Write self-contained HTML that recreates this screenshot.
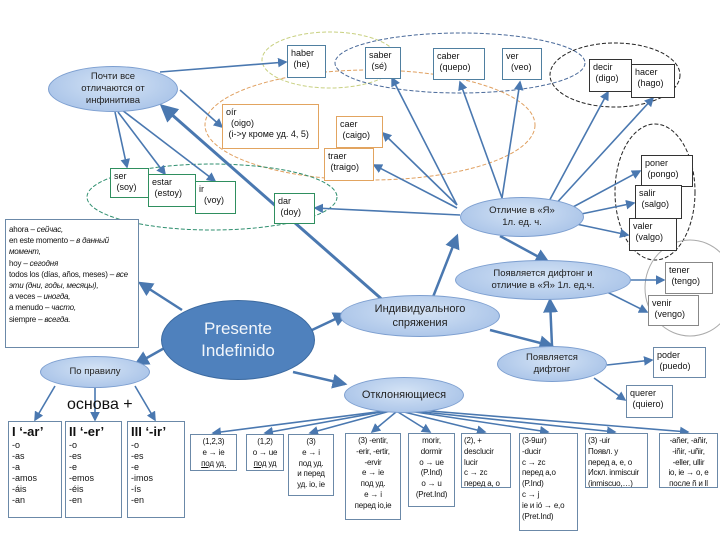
<!DOCTYPE html>
<html><head><meta charset="utf-8"><style>
body{margin:0;width:720px;height:540px;background:#fff;position:relative;overflow:hidden;font-family:"Liberation Sans","DejaVu Sans",sans-serif;color:#111}
.b{position:absolute;background:#fff;border:1px solid #333;font-size:9px;line-height:11px;box-sizing:border-box;padding:2px 3px;overflow:hidden;white-space:nowrap}
.t{border-color:#4f7fa0}.o{border-color:#e2a460}.g{border-color:#2f8f5f}.k{border-color:#333}.bl{border-color:#6b89a8}
.s{font-size:8px;line-height:10.8px;letter-spacing:-0.2px;padding:2px 2px}
.e{position:absolute;border-radius:50%;background:radial-gradient(ellipse at 50% 40%,#d4e3f5,#9fbce5);border:1px solid #7d9fd0;box-sizing:border-box;display:flex;align-items:center;justify-content:center;text-align:center;font-size:9.5px;line-height:12px;color:#222}
.c{text-align:center}
</style></head><body>
<svg width="720" height="540" style="position:absolute;left:0;top:0">
<defs><marker id="a" markerWidth="6" markerHeight="6" refX="5" refY="3" orient="auto"><path d="M0,0L6,3L0,6z" fill="#4a78b0"/></marker></defs>
<g fill="none" stroke-dasharray="4,2" stroke-width="1">
<ellipse cx="330" cy="60" rx="68" ry="28" stroke="#c8d080"/>
<ellipse cx="460" cy="63" rx="125" ry="30" stroke="#4a6a9a"/>
<ellipse cx="370" cy="125" rx="165" ry="55" stroke="#e0a060"/>
<ellipse cx="212" cy="197" rx="125" ry="33" stroke="#2f8f6f"/>
<ellipse cx="615" cy="75" rx="65" ry="32" stroke="#222"/>
<ellipse cx="655" cy="192" rx="40" ry="68" stroke="#222"/>
<ellipse cx="690" cy="288" rx="45" ry="48" stroke="#aaa" stroke-dasharray="none"/>
</g>
<g stroke="#4a78b0" stroke-width="1.6" fill="none" marker-end="url(#a)">
<line x1="160" y1="72" x2="286" y2="62"/>
<line x1="180" y1="90" x2="222" y2="127"/>
<line x1="115" y1="112" x2="127" y2="167"/>
<line x1="118" y1="112" x2="165" y2="174"/>
<line x1="122" y1="110" x2="215" y2="181"/>
<line x1="385" y1="302" x2="162" y2="106" stroke-width="3"/>
<line x1="460" y1="215" x2="315" y2="208"/>
<line x1="457" y1="205" x2="392" y2="78"/>
<line x1="502" y1="198" x2="460" y2="82"/>
<line x1="502" y1="198" x2="520" y2="82"/>
<line x1="547" y1="205" x2="608" y2="92"/>
<line x1="552" y1="208" x2="653" y2="98"/>
<line x1="560" y1="214" x2="640" y2="171"/>
<line x1="562" y1="218" x2="634" y2="203"/>
<line x1="562" y1="221" x2="628" y2="235"/>
<line x1="457" y1="205" x2="383" y2="133"/>
<line x1="457" y1="208" x2="374" y2="165"/>
<line x1="500" y1="236" x2="548" y2="262" stroke-width="2.5"/>
<line x1="433" y1="297" x2="457" y2="236" stroke-width="2.5"/>
<line x1="490" y1="330" x2="552" y2="346" stroke-width="2.5"/>
<line x1="552" y1="346" x2="550" y2="300" stroke-width="2.5"/>
<line x1="630" y1="280" x2="664" y2="280"/>
<line x1="605" y1="291" x2="647" y2="312"/>
<line x1="607" y1="365" x2="652" y2="360"/>
<line x1="594" y1="378" x2="625" y2="400"/>
<line x1="312" y1="330" x2="346" y2="314" stroke-width="2.5"/>
<line x1="182" y1="310" x2="140" y2="283" stroke-width="2.5"/>
<line x1="168" y1="346" x2="136" y2="364" stroke-width="2.5"/>
<line x1="293" y1="372" x2="345" y2="384" stroke-width="2.5"/>
<line x1="55" y1="386" x2="35" y2="420"/>
<line x1="95" y1="388" x2="95" y2="420"/>
<line x1="135" y1="386" x2="155" y2="420"/>
<line x1="392" y1="410" x2="213" y2="433"/>
<line x1="392" y1="410" x2="265" y2="433"/>
<line x1="394" y1="410" x2="310" y2="433"/>
<line x1="396" y1="412" x2="372" y2="432"/>
<line x1="398" y1="412" x2="430" y2="432"/>
<line x1="400" y1="411" x2="485" y2="432"/>
<line x1="402" y1="410" x2="548" y2="432"/>
<line x1="404" y1="410" x2="615" y2="432"/>
<line x1="406" y1="409" x2="688" y2="432"/>
</g>
</svg>
<div class="b t" style="left:287px;top:45px;width:39px;height:33px">haber<br>&nbsp;(he)</div>
<div class="b t" style="left:365px;top:47px;width:36px;height:32px">saber<br>&nbsp;(sé)</div>
<div class="b t" style="left:433px;top:48px;width:52px;height:32px">caber<br>&nbsp;(quepo)</div>
<div class="b t" style="left:502px;top:48px;width:40px;height:32px">ver<br>&nbsp;&nbsp;(veo)</div>
<div class="b k" style="left:589px;top:59px;width:43px;height:33px">decir<br>&nbsp;(digo)</div>
<div class="b k" style="left:631px;top:64px;width:44px;height:34px">hacer<br>&nbsp;(hago)</div>
<div class="b o" style="left:222px;top:104px;width:97px;height:45px">oír<br>&nbsp;&nbsp;(oigo)<br>&nbsp;(i-&gt;y кроме уд. 4, 5)</div>
<div class="b o" style="left:336px;top:116px;width:47px;height:32px">caer<br>&nbsp;(caigo)</div>
<div class="b o" style="left:324px;top:148px;width:50px;height:33px">traer<br>&nbsp;(traigo)</div>
<div class="b g" style="left:110px;top:168px;width:39px;height:30px">ser<br>&nbsp;(soy)</div>
<div class="b g" style="left:148px;top:174px;width:48px;height:33px">estar<br>&nbsp;(estoy)</div>
<div class="b g" style="left:195px;top:181px;width:41px;height:33px">ir<br>&nbsp;&nbsp;(voy)</div>
<div class="b g" style="left:274px;top:193px;width:41px;height:31px">dar<br>&nbsp;(doy)</div>
<div class="b k" style="left:641px;top:155px;width:52px;height:32px">poner<br>&nbsp;(pongo)</div>
<div class="b k" style="left:635px;top:185px;width:47px;height:34px">salir<br>&nbsp;(salgo)</div>
<div class="b k" style="left:629px;top:218px;width:48px;height:33px">valer<br>&nbsp;(valgo)</div>
<div class="b k" style="left:665px;top:262px;width:48px;height:32px;border-color:#888">tener<br>&nbsp;(tengo)</div>
<div class="b k" style="left:648px;top:295px;width:51px;height:31px;border-color:#888">venir<br>&nbsp;(vengo)</div>
<div class="b bl" style="left:653px;top:347px;width:53px;height:31px">poder<br>&nbsp;(puedo)</div>
<div class="b bl" style="left:626px;top:385px;width:47px;height:33px">querer<br>&nbsp;(quiero)</div>
<div class="b bl" style="left:5px;top:219px;width:134px;height:129px;font-size:8px;line-height:11.2px;padding:4px 3px;white-space:normal;letter-spacing:-0.2px">ahora – <i>сейчас,</i><br>en este momento – <i>в данный момент,</i><br>hoy – <i>сегодня</i><br>todos los (días, años, meses) – <i>все эти (дни, годы, месяцы),</i><br>a veces – <i>иногда,</i><br>a menudo – <i>часто,</i><br>siempre – <i>всегда.</i></div>
<div class="e" style="left:48px;top:66px;width:130px;height:46px">Почти все<br>отличаются от<br>инфинитива</div>
<div class="e" style="left:460px;top:197px;width:124px;height:40px">Отличие в «Я»<br>1л. ед. ч.</div>
<div class="e" style="left:455px;top:260px;width:176px;height:40px">Появляется дифтонг и<br>отличие в «Я» 1л. ед.ч.</div>
<div class="e" style="left:340px;top:295px;width:160px;height:42px;font-size:11px;line-height:14px">Индивидуального<br>спряжения</div>
<div class="e" style="left:497px;top:346px;width:110px;height:36px">Появляется<br>дифтонг</div>
<div class="e" style="left:344px;top:377px;width:120px;height:36px;font-size:11px">Отклоняющиеся</div>
<div class="e" style="left:161px;top:300px;width:154px;height:80px;background:#4f81bd;border-color:#3c6aa0;color:#f2f6fb;font-size:17px;line-height:22px">Presente<br>Indefinido</div>
<div class="e" style="left:40px;top:356px;width:110px;height:32px">По правилу</div>
<div style="position:absolute;left:67px;top:396px;font-size:16px">основа +</div>
<div class="b bl" style="left:8px;top:421px;width:54px;height:97px"><b style="font-size:13px;line-height:16px">I ‘-ar’</b><br>-o<br>-as<br>-a<br>-amos<br>-áis<br>-an</div>
<div class="b bl" style="left:65px;top:421px;width:57px;height:97px"><b style="font-size:13px;line-height:16px">II ‘-er’</b><br>-o<br>-es<br>-e<br>-emos<br>-éis<br>-en</div>
<div class="b bl" style="left:127px;top:421px;width:58px;height:97px"><b style="font-size:13px;line-height:16px">III ‘-ir’</b><br>-o<br>-es<br>-e<br>-imos<br>-ís<br>-en</div>
<div class="b bl c s" style="left:190px;top:434px;width:47px;height:37px">(1,2,3)<br>e → ie<br><u>под уд.</u></div>
<div class="b bl c s" style="left:246px;top:434px;width:38px;height:37px">(1,2)<br>o → ue<br><u>под уд</u></div>
<div class="b bl c s" style="left:288px;top:434px;width:46px;height:62px">(3)<br>e → i<br>под уд.<br>и перед<br>уд. io, ie</div>
<div class="b bl c s" style="left:345px;top:433px;width:56px;height:87px">(3) -entir,<br>-erir, -ertir,<br>-ervir<br>e → ie<br>под уд.<br>e → i<br>перед io,ie</div>
<div class="b bl c s" style="left:408px;top:433px;width:47px;height:74px">morir,<br>dormir<br>o → ue<br>(P.Ind)<br>o → u<br>(Pret.Ind)</div>
<div class="b bl s" style="left:461px;top:433px;width:50px;height:55px">(2), +<br>desclucir<br>lucir<br>c → zc<br>перед a, o</div>
<div class="b bl s" style="left:519px;top:433px;width:59px;height:98px">(3-9шr)<br>-ducir<br>c → zc<br>перед a,o<br>(P.Ind)<br>c → j<br>ie и ió → e,o<br>(Pret.Ind)</div>
<div class="b bl s" style="left:585px;top:433px;width:63px;height:55px">(3) -uir<br>Появл. y<br>перед a, e, o<br>Искл. inmiscuir<br>(inmiscuo,…)</div>
<div class="b bl c s" style="left:659px;top:433px;width:59px;height:55px">-añer, -añir,<br>-iñir, -uñir,<br>-eller, ullir<br>io, ie → o, e<br>после ñ и ll</div>
</body></html>
